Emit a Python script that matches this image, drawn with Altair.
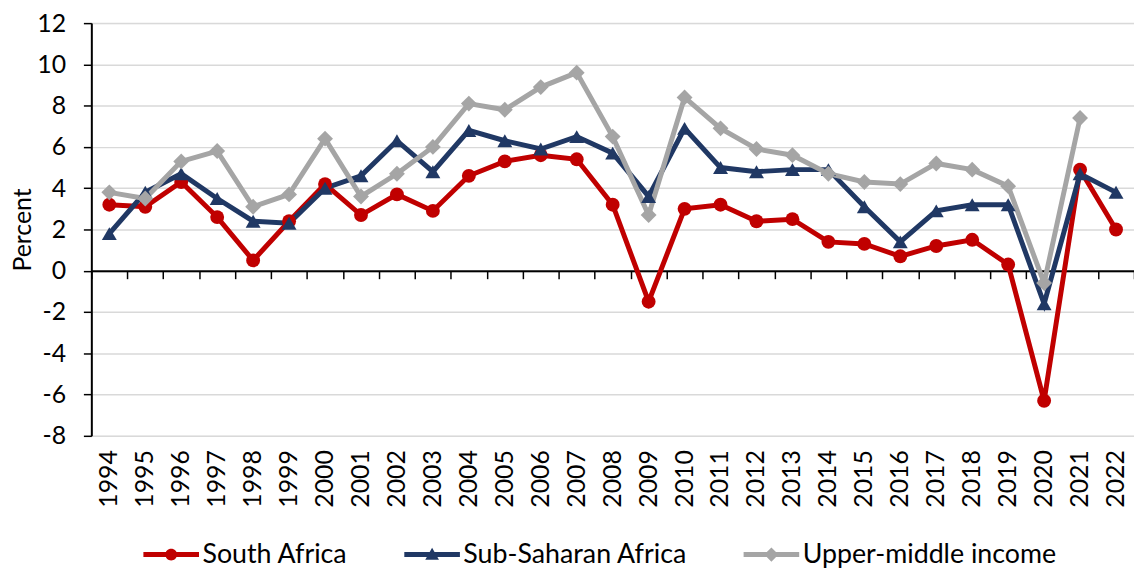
import altair as alt
import pandas as pd

years = list(range(1994, 2023))
south_africa = [3.2, 3.1, 4.3, 2.6, 0.5, 2.4, 4.2, 2.7, 3.7, 2.9,
                4.6, 5.3, 5.6, 5.4, 3.2, -1.5, 3.0, 3.2, 2.4, 2.5,
                1.4, 1.3, 0.7, 1.2, 1.5, 0.3, -6.3, 4.9, 2.0]
sub_saharan = [1.8, 3.8, 4.7, 3.5, 2.4, 2.3, 4.0, 4.6, 6.3, 4.8,
               6.8, 6.3, 5.9, 6.5, 5.7, 3.6, 6.9, 5.0, 4.8, 4.9,
               4.9, 3.1, 1.4, 2.9, 3.2, 3.2, -1.6, 4.7, 3.8]
upper_middle = [3.8, 3.5, 5.3, 5.8, 3.1, 3.7, 6.4, 3.6, 4.7, 6.0,
                8.1, 7.8, 8.9, 9.6, 6.5, 2.7, 8.4, 6.9, 5.9, 5.6,
                4.7, 4.3, 4.2, 5.2, 4.9, 4.1, -0.6, 7.4, None]

series_names = ["South Africa", "Sub-Saharan Africa", "Upper-middle income"]
series_colors = ["#C00000", "#203864", "#A5A5A5"]
series_shapes = ["circle", "triangle-up", "diamond"]
series_marker_sizes = [196, 256, 340]

rows = []
for name, vals in zip(series_names, [south_africa, sub_saharan, upper_middle]):
    for y, v in zip(years, vals):
        if v is not None:
            rows.append({"year": str(y), "series": name, "value": v})
df = pd.DataFrame(rows)

FONT = "Lato"
W, H = 1051, 416
Y_MIN, Y_MAX = -8, 12
zero_offset = -(H * (0 - Y_MIN) / (Y_MAX - Y_MIN))

# legend symbol paths: line + marker (unit box scaled by sqrt(size)/2)
line_part = "M-4.67,-0.42H4.67V0.42H-4.67Z"
leg_circle = line_part + " M-1,0A1,1 0 1,1 1,0A1,1 0 1,1 -1,0Z"
leg_tri = line_part + " M0,-1.15L1.15,0.85L-1.15,0.85Z"
leg_dia = line_part + " M0,-1.2L1.2,0L0,1.2L-1.2,0Z"

color_scale = alt.Scale(domain=series_names, range=series_colors)
shape_scale = alt.Scale(domain=series_names, range=series_shapes)
size_scale = alt.Scale(domain=series_names, range=series_marker_sizes)
legend_shape_scale = alt.Scale(domain=series_names, range=[leg_circle, leg_tri, leg_dia])
x_scale = alt.Scale(type="band", paddingInner=0, paddingOuter=0)
y_scale = alt.Scale(domain=[Y_MIN, Y_MAX], nice=False, zero=False)

y_enc = alt.Y(
    "value:Q",
    scale=y_scale,
    axis=alt.Axis(
        title="Percent",
        values=list(range(Y_MIN, Y_MAX + 1, 2)),
        labelExpr="datum.value + ''",
        grid=True, gridColor="#D9D9D9", gridWidth=1.5,
        domain=True, domainColor="#000000", domainWidth=2,
        ticks=True, tickColor="#000000", tickWidth=1.5, tickSize=8,
        labelFontSize=25, labelFont=FONT, labelColor="#000000", labelPadding=18,
        titleFontSize=25, titleFont=FONT, titleColor="#000000",
        titleFontWeight="normal", titlePadding=1,
    ),
)

lines = alt.Chart(df).mark_line(strokeWidth=5).encode(
    x=alt.X("year:O", scale=x_scale, sort=None,
            axis=alt.Axis(title=None, orient="bottom", labelAngle=-90,
                          labelFontSize=25, labelFont=FONT, labelColor="#000000",
                          labelPadding=14, ticks=False, domain=False, grid=False)),
    y=y_enc,
    color=alt.Color("series:N", scale=color_scale, legend=None),
    detail="series:N",
)

points = alt.Chart(df).mark_point(filled=True, opacity=1).encode(
    x=alt.X("year:O", scale=x_scale, sort=None,
            axis=alt.Axis(title=None, orient="bottom", offset=zero_offset,
                          labels=False, ticks=True, tickBand="extent",
                          tickSize=8, tickColor="#000000", tickWidth=1.5,
                          domain=True, domainColor="#000000", domainWidth=2,
                          grid=False)),
    y=alt.Y("value:Q", scale=y_scale),
    color=alt.Color("series:N", scale=color_scale, legend=None),
    shape=alt.Shape("series:N", scale=shape_scale, legend=None),
    size=alt.Size("series:N", scale=size_scale, legend=None),
)

legend_props = dict(
    title=None, orient="none", direction="horizontal",
    legendX=67, legendY=522,
    labelFontSize=27, labelFont=FONT, labelColor="#000000", labelLimit=0,
    symbolSize=144, symbolStrokeWidth=0, symbolOpacity=1,
    labelOffset=18, columnPadding=56, padding=0,
)

legend_layer = alt.Chart(df).mark_point(filled=True, size=0, strokeWidth=0).encode(
    x=alt.X("year:O", scale=x_scale, sort=None, axis=None),
    y=alt.Y("value:Q", scale=y_scale),
    color=alt.Color("series:N", scale=color_scale, legend=alt.Legend(**legend_props)),
    shape=alt.Shape("series:N", scale=legend_shape_scale, legend=alt.Legend(**legend_props)),
)

chart = alt.layer(lines, points, legend_layer).resolve_axis(
    x="independent"
).resolve_scale(shape="independent", color="independent").properties(
    width=W, height=H,
    autosize=alt.AutoSizeParams(type="none"),
    padding={"left": 84, "top": 13, "right": 0, "bottom": 132},
).configure_view(stroke="#000000", strokeWidth=1.5).configure(font=FONT)

chart.save("out.html", embed_options={"renderer": "svg", "actions": False})
